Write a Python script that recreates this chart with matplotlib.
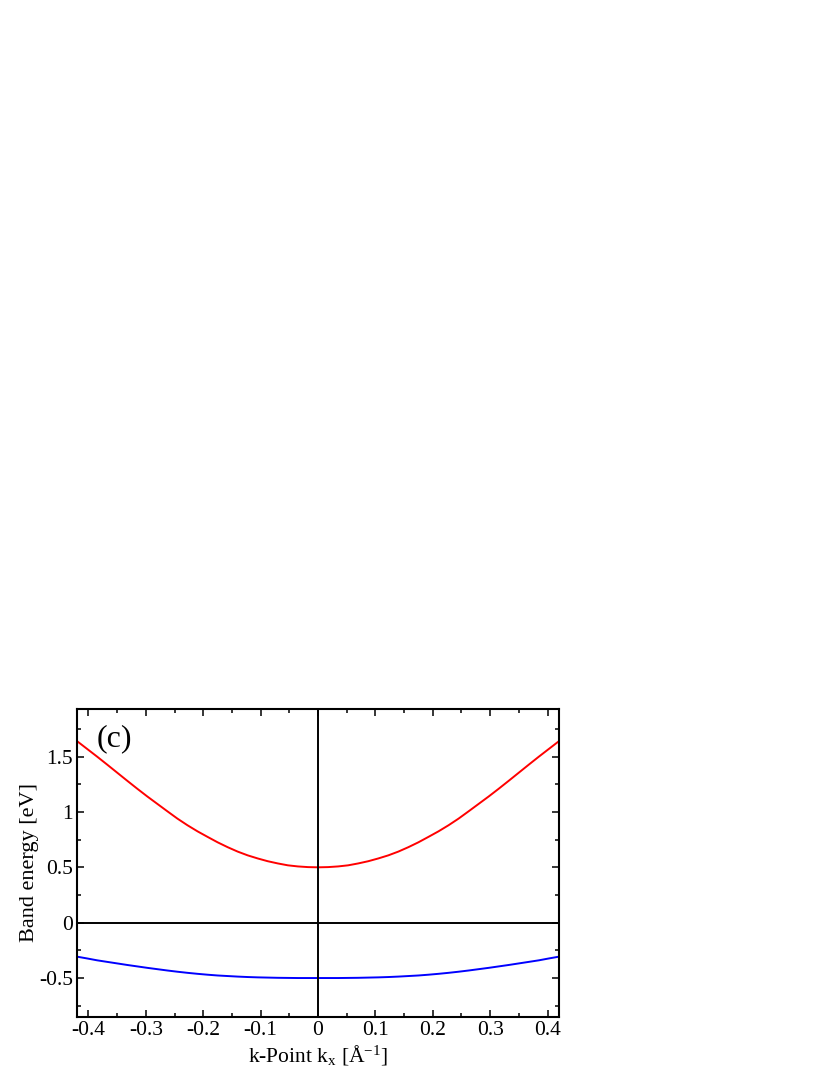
import matplotlib
matplotlib.use("Agg")
import matplotlib.pyplot as plt
from matplotlib.ticker import MultipleLocator, FuncFormatter

# k grid and band energies (eV)
k_points = [-0.42, -0.4025, -0.385, -0.3675, -0.35, -0.3325, -0.315, -0.2975, -0.28, -0.2625,
            -0.245, -0.2275, -0.21, -0.1925, -0.175, -0.1575, -0.14,
            -0.1225, -0.105, -0.0875, -0.07, -0.0525, -0.035, -0.0175,
            0.0,
            0.0175, 0.035, 0.0525, 0.07, 0.0875, 0.105, 0.1225,
            0.14, 0.1575, 0.175, 0.1925, 0.21, 0.2275, 0.245, 0.2625,
            0.28, 0.2975, 0.315, 0.3325, 0.35, 0.3675, 0.385, 0.4025, 0.42]
conduction_band = [1.64, 1.57, 1.50, 1.428, 1.355, 1.282, 1.21, 1.14, 1.073, 1.006,
                   0.94, 0.88, 0.825, 0.775, 0.726, 0.682, 0.642,
                   0.608, 0.58, 0.555, 0.535, 0.518, 0.508, 0.502,
                   0.50,
                   0.502, 0.508, 0.518, 0.535, 0.555, 0.58, 0.608,
                   0.642, 0.682, 0.726, 0.775, 0.825, 0.88, 0.94, 1.006,
                   1.073, 1.14, 1.21, 1.282, 1.355, 1.428, 1.50, 1.57, 1.64]
valence_band = [-0.307, -0.323, -0.34, -0.354, -0.368, -0.382, -0.395, -0.408, -0.42, -0.432,
                -0.443, -0.453, -0.462, -0.47, -0.477, -0.482, -0.487,
                -0.491, -0.494, -0.496, -0.498, -0.499, -0.50, -0.50,
                -0.50,
                -0.50, -0.50, -0.499, -0.498, -0.496, -0.494, -0.491,
                -0.487, -0.482, -0.477, -0.47, -0.462, -0.453, -0.443, -0.432,
                -0.42, -0.408, -0.395, -0.382, -0.368, -0.354, -0.34, -0.323, -0.307]

panel_label = "(c)"


def main():
    plt.rcParams['font.family'] = ['Liberation Serif', 'DejaVu Serif']
    plt.rcParams['mathtext.fontset'] = 'custom'
    plt.rcParams['mathtext.rm'] = 'Liberation Serif'
    plt.rcParams['mathtext.it'] = 'Liberation Serif:italic'
    plt.rcParams['axes.unicode_minus'] = False

    fig = plt.figure(figsize=(8.3, 10.75), dpi=100)
    ax = fig.add_axes([77 / 830, 1 - 1017 / 1075, 482 / 830, 308 / 1075])

    ax.plot(k_points, conduction_band, color='#ff0000', lw=1.4)
    ax.plot(k_points, valence_band, color='#0000ff', lw=1.4)
    ax.axhline(0, color='black', lw=1.4)
    ax.axvline(0, color='black', lw=1.4)

    ax.set_xlim(-0.42, 0.42)
    ax.set_ylim(-0.852, 1.93)

    ax.xaxis.set_major_locator(MultipleLocator(0.1))
    ax.xaxis.set_minor_locator(MultipleLocator(0.05))
    ax.yaxis.set_major_locator(MultipleLocator(0.5))
    ax.yaxis.set_minor_locator(MultipleLocator(0.25))
    fmt = FuncFormatter(lambda v, pos: "%g" % round(v, 3))
    ax.xaxis.set_major_formatter(fmt)
    ax.yaxis.set_major_formatter(fmt)

    ax.tick_params(which='both', direction='in', top=True, right=True, width=1.1, labelsize=15.5)
    ax.tick_params(which='major', length=5, pad=3)
    ax.tick_params(which='minor', length=3)
    for s in ax.spines.values():
        s.set_linewidth(1.5)

    ax.set_xlabel(r"k-Point k$_\mathrm{x}$ [Å$^\mathrm{-1}$]", fontsize=15.5, labelpad=2)
    ax.set_ylabel("Band energy [eV]", fontsize=16)
    ax.yaxis.set_label_coords(-0.079, 0.5)

    ax.text(0.04, 0.903, panel_label, transform=ax.transAxes, fontsize=23, va='center', ha='left')

    fig.savefig("out.png", dpi=100)


if __name__ == "__main__":
    main()
